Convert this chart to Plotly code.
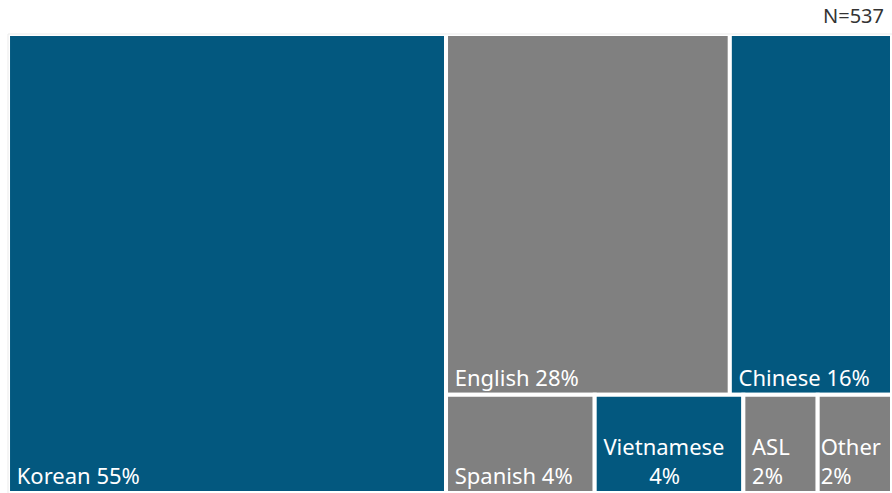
import plotly.graph_objects as go

# Languages spoken by respondents (share of respondents, multiple answers allowed)
languages = ["Korean", "English", "Chinese", "Spanish", "Vietnamese", "ASL", "Other"]
shares = [55, 28, 16, 4, 4, 2, 2]
tile_colors = ["#03587f", "#808080", "#03587f", "#808080", "#03587f", "#808080", "#808080"]
# grouping used to arrange the tiles: one large column, then two rows beside it
groups = ["", "top", "top", "bottom", "bottom", "bottom", "bottom"]
sample_size = 537

NB = "\u00a0"
FONT = "Noto Sans, Open Sans, sans-serif"


def tile_label(name, v):
    if name == "Vietnamese":
        return f"{NB}{name}<br>{NB * 9}{v}%"
    if name == "ASL":
        return f"{NB}{name}<br>{NB}{v}%"
    if name == "Other":
        return f"{name}<br>{v}%"
    return f"{NB}{name} {v}%"


# build the node list: top-level tiles first, layout groups hold the rest
ids, parents, values, colors, texts = [], [], [], [], []


def add_node(node_id, parent, value, color, text):
    ids.append(node_id)
    parents.append(parent)
    values.append(value)
    colors.append(color)
    texts.append(text)


for name, v, c, g in zip(languages, shares, tile_colors, groups):
    if g == "":
        add_node(name, "", v, c, tile_label(name, v))
add_node("rest", "", 0, "white", "")
for grp in ["top", "bottom"]:
    add_node(grp, "rest", 0, "white", "")
    for name, v, c, g in zip(languages, shares, tile_colors, groups):
        if g == grp:
            add_node(name, grp, v, c, tile_label(name, v))

DOMAIN_X = [0.009, 1.0]
DOMAIN_Y = [0.0, 0.931]

fig = go.Figure(
    go.Treemap(
        ids=ids,
        labels=ids,
        parents=parents,
        values=values,
        text=texts,
        texttemplate="%{text}",
        textposition="bottom left",
        textfont=dict(family=FONT, size=22, color="white"),
        marker=dict(
            colors=colors,
            line=dict(color="white", width=4),
            pad=dict(t=0, l=0, r=0, b=0),
        ),
        tiling=dict(packing="slice-dice", pad=0),
        pathbar=dict(visible=False),
        sort=False,
        hoverinfo="skip",
        domain=dict(x=DOMAIN_X, y=DOMAIN_Y),
    )
)

# faint frame around the visual area
fig.add_shape(
    type="rect",
    xref="paper", yref="paper",
    x0=DOMAIN_X[0], x1=1.01, y0=-0.01, y1=DOMAIN_Y[1],
    line=dict(color="#ebebeb", width=1),
    fillcolor="rgba(0,0,0,0)",
    layer="above",
)

fig.add_annotation(
    text=f"N={sample_size}",
    xref="paper", yref="paper",
    x=0.993, y=1.0,
    xanchor="right", yanchor="top",
    showarrow=False,
    font=dict(family=FONT, size=20, color="#333333"),
)

fig.update_layout(
    width=892,
    height=493,
    margin=dict(l=0, r=0, t=0, b=0),
    paper_bgcolor="white",
    plot_bgcolor="white",
    uniformtext=dict(minsize=22, mode="show"),
)

fig.write_html("out.html")
